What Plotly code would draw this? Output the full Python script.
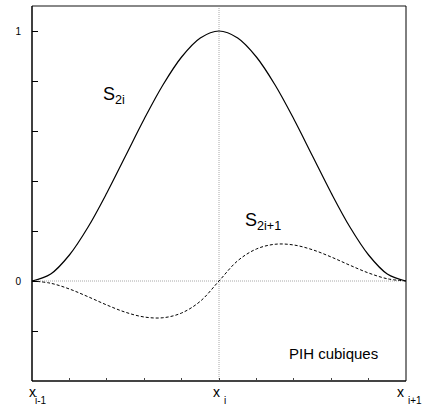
import plotly.graph_objects as go

# Data
x_vals = [-1.0, -0.9, -0.8, -0.7, -0.6, -0.5, -0.4, -0.3, -0.2, -0.1, 0.0,
          0.1, 0.2, 0.3, 0.4, 0.5, 0.6, 0.7, 0.8, 0.9, 1.0]
s2i = [0.0, 0.028, 0.104, 0.216, 0.352, 0.5, 0.648, 0.784, 0.896, 0.972, 1.0,
       0.972, 0.896, 0.784, 0.648, 0.5, 0.352, 0.216, 0.104, 0.028, 0.0]
s2i1 = [0.0, -0.009, -0.032, -0.063, -0.096, -0.125, -0.144, -0.147, -0.128, -0.081, 0.0,
        0.081, 0.128, 0.147, 0.144, 0.125, 0.096, 0.063, 0.032, 0.009, 0.0]

x_tick_pos = [-1.0, 0.0, 1.0]
x_tick_sub = ["i-1", "i", "i+1"]
y_tick_vals = [-0.4, -0.2, 0.0, 0.2, 0.4, 0.6, 0.8, 1.0]
y_tick_text = ["", "", "0", "", "", "", "", "1"]
x_minor_ticks = [-1.0, -0.8, -0.6, -0.4, -0.2, 0.0, 0.2, 0.4, 0.6, 0.8, 1.0]

FONT = "Liberation Sans, Arial, Helvetica, sans-serif"

fig = go.Figure()

# reference dotted lines
fig.add_trace(go.Scatter(x=[-1, 1], y=[0, 0], mode="lines",
                         line=dict(color="#a8a8a8", width=1, dash="1px,1px"),
                         hoverinfo="skip", showlegend=False))
fig.add_trace(go.Scatter(x=[0, 0], y=[-0.4, 1.1], mode="lines",
                         line=dict(color="#a8a8a8", width=1, dash="1px,1px"),
                         hoverinfo="skip", showlegend=False))

fig.add_trace(go.Scatter(x=x_vals, y=s2i, mode="lines", line_shape="spline",
                         line=dict(color="black", width=1.2), showlegend=False))
fig.add_trace(go.Scatter(x=x_vals, y=s2i1, mode="lines", line_shape="spline",
                         line=dict(color="black", width=1, dash="3px,2px"),
                         showlegend=False))

annotations = []
# x tick labels: "x" plus subscript (placed below the plot area)
x_shift_main = [0, -3, -6]
x_shift_sub = [1, 3, 0]
for xv, sub, sm, ss in zip(x_tick_pos, x_tick_sub, x_shift_main, x_shift_sub):
    annotations.append(dict(x=xv, y=-0.029, xref="x", yref="paper", text="x",
                            showarrow=False, xanchor="center", yanchor="middle",
                            xshift=sm, font=dict(family=FONT, size=14, color="black")))
    annotations.append(dict(x=xv, y=-0.052, xref="x", yref="paper", text=sub,
                            showarrow=False, xanchor="left", yanchor="middle",
                            xshift=ss, font=dict(family=FONT, size=10, color="black")))

annotations.append(dict(x=-0.63, y=0.742, xref="x", yref="y", text="S<sub>2i</sub>",
                        showarrow=False, xanchor="left", yanchor="middle",
                        font=dict(family=FONT, size=18, color="black")))
annotations.append(dict(x=0.127, y=0.238, xref="x", yref="y", text="S<sub>2i+1</sub>",
                        showarrow=False, xanchor="left", yanchor="middle",
                        font=dict(family=FONT, size=18, color="black")))
annotations.append(dict(x=0.362, y=-0.288, xref="x", yref="y", text="PIH cubiques",
                        showarrow=False, xanchor="left", yanchor="middle",
                        font=dict(family=FONT, size=15, color="black")))

shapes = [
    dict(type="line", xref="paper", yref="paper", x0=0, x1=1, y0=1, y1=1,
         line=dict(color="#888888", width=2)),
    dict(type="line", xref="paper", yref="paper", x0=0, x1=1, y0=0, y1=0,
         line=dict(color="#444444", width=2)),
    dict(type="line", xref="paper", yref="paper", x0=0, x1=0, y0=0, y1=1,
         line=dict(color="black", width=1.5)),
    dict(type="line", xref="paper", yref="paper", x0=1, x1=1, y0=0, y1=1,
         line=dict(color="black", width=1)),
]

fig.update_layout(
    width=423, height=405,
    margin=dict(l=32, r=17, t=6, b=24),
    paper_bgcolor="white", plot_bgcolor="white",
    font=dict(family=FONT, color="black"),
    annotations=annotations, shapes=shapes,
    showlegend=False,
)
fig.update_xaxes(range=[-1, 1], showgrid=False, zeroline=False, showline=False,
                 tickmode="array", tickvals=x_minor_ticks,
                 ticktext=[""] * len(x_minor_ticks),
                 ticks="inside", ticklen=3, tickwidth=1, tickcolor="#444444")
fig.update_yaxes(range=[-0.4, 1.1], showgrid=False, zeroline=False, showline=False,
                 tickmode="array", tickvals=y_tick_vals, ticktext=y_tick_text,
                 ticks="inside", ticklen=6, tickwidth=1, tickcolor="black",
                 tickfont=dict(family=FONT, size=10, color="black"),
                 ticklabelstandoff=10)

fig.write_html("out.html")
